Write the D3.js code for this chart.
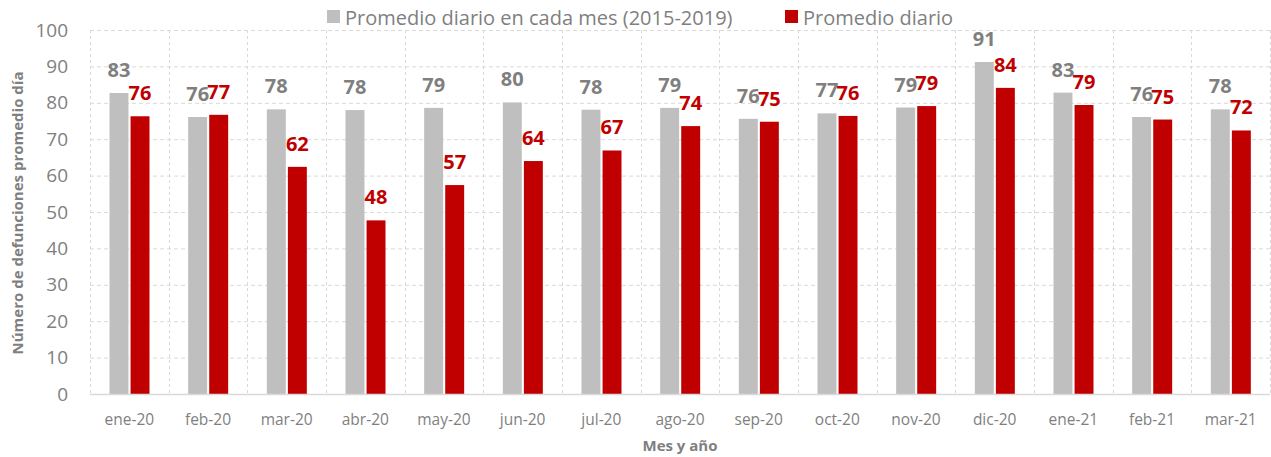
<!DOCTYPE html>
<meta charset="utf-8">
<html>
    <head>
        <style>
            body { margin: 0; background: #fff; }
            text { font-family: "Open Sans", "Noto Sans", sans-serif; }
        </style>
        <script src="https://d3js.org/d3.v7.min.js"></script>
    </head>
    <body>
        <script>

            // Data
            var months = ["ene-20", "feb-20", "mar-20", "abr-20", "may-20", "jun-20", "jul-20", "ago-20",
                          "sep-20", "oct-20", "nov-20", "dic-20", "ene-21", "feb-21", "mar-21"];
            var promedioHistorico = [82.7, 76.1, 78.2, 78.0, 78.6, 80.1, 78.1, 78.6, 75.6, 77.1, 78.7, 91.2, 82.8, 76.1, 78.2];
            var promedio2020 = [76.3, 76.7, 62.4, 47.7, 57.4, 64.0, 66.9, 73.6, 74.8, 76.4, 79.1, 84.1, 79.4, 75.4, 72.4];
            var seriesNames = ["Promedio diario en cada mes (2015-2019)", "Promedio diario"];
            var yTicks = [0, 10, 20, 30, 40, 50, 60, 70, 80, 90, 100];

            var colors = ["#bfbfbf", "#c00000"];
            var labelColors = ["#7f7f7f", "#c00000"];

            var width = 1271, height = 457;
            var margin = {left: 90, right: 1, top: 30, bottom: 63};

            var svg = d3.select("body")
                .append("svg")
                .attr("width", width)
                .attr("height", height);

            var x = d3.scaleBand()
                .domain(months)
                .range([margin.left, width - margin.right])
                .padding(0);

            // position of the two bars inside a month
            var x1 = d3.scaleBand()
                .domain([0, 1])
                .range([19.5, 59.5])
                .paddingInner(0.1);

            var y = d3.scaleLinear()
                .domain([0, 100])
                .range([height - margin.bottom, margin.top]);

            // Horizontal grid
            svg.append("g")
                .selectAll("line")
                .data(yTicks.slice(1))
                .enter().append("line")
                .attr("x1", margin.left)
                .attr("x2", width - margin.right)
                .attr("y1", function(d) { return y(d) + 0.5; })
                .attr("y2", function(d) { return y(d) + 0.5; })
                .attr("stroke", "#d9d9d9")
                .attr("stroke-dasharray", "4,3");

            // Vertical grid at category boundaries
            svg.append("g")
                .selectAll("line")
                .data(months.concat(["end"]))
                .enter().append("line")
                .attr("x1", function(d, i) { return Math.round(margin.left + i * x.step()) + 0.5; })
                .attr("x2", function(d, i) { return Math.round(margin.left + i * x.step()) + 0.5; })
                .attr("y1", y(100))
                .attr("y2", y(0))
                .attr("stroke", "#d9d9d9")
                .attr("stroke-dasharray", "3,3");

            // Y tick labels
            svg.append("g")
                .selectAll("text")
                .data(yTicks)
                .enter().append("text")
                .attr("x", 68)
                .attr("y", function(d) { return y(d); })
                .attr("dy", "0.35em")
                .attr("text-anchor", "end")
                .attr("font-size", "19px")
                .attr("fill", "#7f7f7f")
                .text(function(d) { return d; });

            // Bars
            var groups = svg.append("g")
                .selectAll("g")
                .data(months)
                .enter().append("g")
                .attr("transform", function(d) { return "translate(" + x(d) + ",0)"; });

            [promedioHistorico, promedio2020].forEach(function(values, s) {
                groups.append("rect")
                    .attr("x", x1(s))
                    .attr("width", x1.bandwidth())
                    .attr("y", function(d, i) { return y(values[i]); })
                    .attr("height", function(d, i) { return y(0) - y(values[i]); })
                    .attr("fill", colors[s]);

                groups.append("text")
                    .attr("x", x1(s) + x1.bandwidth() / 2)
                    .attr("y", function(d, i) { return y(values[i]) - 16; })
                    .attr("text-anchor", "middle")
                    .attr("font-size", "20px")
                    .attr("font-weight", "bold")
                    .attr("fill", labelColors[s])
                    .text(function(d, i) { return Math.round(values[i]); });
            });

            // Bottom axis line
            svg.append("line")
                .attr("x1", margin.left)
                .attr("x2", width - margin.right)
                .attr("y1", y(0) + 0.5)
                .attr("y2", y(0) + 0.5)
                .attr("stroke", "#d9d9d9")
                .attr("stroke-width", 1.5);

            // X tick labels
            svg.append("g")
                .selectAll("text")
                .data(months)
                .enter().append("text")
                .attr("x", function(d) { return x(d) + x.bandwidth() / 2; })
                .attr("y", 425)
                .attr("text-anchor", "middle")
                .attr("font-size", "15.5px")
                .attr("fill", "#7f7f7f")
                .text(function(d) { return d; });

            // Axis titles
            svg.append("text")
                .attr("x", 680)
                .attr("y", 451)
                .attr("text-anchor", "middle")
                .attr("font-size", "15px")
                .attr("font-weight", "bold")
                .attr("fill", "#7f7f7f")
                .text("Mes y año");

            svg.append("text")
                .attr("transform", "translate(23," + 213 + ") rotate(-90)")
                .attr("text-anchor", "middle")
                .attr("font-size", "15px")
                .attr("font-weight", "bold")
                .attr("fill", "#7f7f7f")
                .text("Número de defunciones promedio día");

            // Legend
            var legendX = [327, 785];
            var legend = svg.append("g")
                .selectAll("g")
                .data(seriesNames)
                .enter().append("g")
                .attr("transform", function(d, i) { return "translate(" + legendX[i] + ",10)"; });

            legend.append("rect")
                .attr("width", 13)
                .attr("height", 13)
                .attr("fill", function(d, i) { return colors[i]; });

            legend.append("text")
                .attr("x", 18)
                .attr("y", 15)
                .attr("font-size", "20px")
                .attr("fill", "#7f7f7f")
                .text(function(d) { return d; });

        </script>
    </body>
</html>
